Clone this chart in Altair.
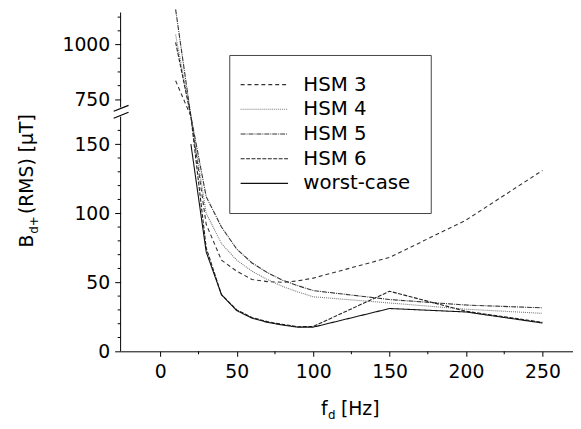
import altair as alt
import pandas as pd

# ---------------- data ----------------
freqs = [10, 20, 30, 40, 50, 60, 70, 80, 90, 100, 150, 200, 250]
hsm3 = [835, 185, 92, 66, 58, 52, 50.5, 50, 51, 53, 68, 95, 131]
hsm4 = [1045, 180, 100, 78, 66, 58, 52, 47, 43, 39.5, 35, 30.5, 27.5]
hsm5 = [1160, 190, 112, 90, 74, 64, 57, 51.5, 47.5, 44, 37.5, 33.5, 31.5]
hsm6 = [1010, 175, 75, 41, 30, 24.5, 21.5, 19.5, 17.8, 18, 43.5, 29, 21]
worst = [None, 150, 72, 41, 29.5, 24, 21, 19, 17.5, 17.5, 31, 28.5, 20.5]
series_names = ["HSM 3", "HSM 4", "HSM 5", "HSM 6", "worst-case"]
series_vals = [hsm3, hsm4, hsm5, hsm6, worst]
series_dash = [[4, 3], [1, 1], [5, 1, 1, 1], [4, 1.5], [1, 0]]
series_color = ["#333333", "#777777", "#333333", "#222222", "#111111"]

x_major = [0, 50, 100, 150, 200, 250]
x_minor = [25, 75, 125, 175, 225]
y_major_low = [0, 50, 100, 150]
y_minor_low = [10, 20, 30, 40, 60, 70, 80, 90, 110, 120, 130, 140, 160]
y_major_up = [750, 1000]
y_minor_up = [812.5, 875, 937.5, 1062.5, 1125]

# broken axis: lower segment 0..170, upper segment 713..1146
LO, HI, TOP = 170, 713, 1146
UP0, K = 176.6, 0.1588


def brk(v):
    if v <= LO:
        return v
    if v >= HI:
        return UP0 + (v - HI) * K
    return LO + (v - LO) * (UP0 - LO) / (HI - LO)


def calc_for(field):
    return (f"datum.{field} <= {LO} ? datum.{field} : (datum.{field} >= {HI} ? "
            f"{UP0} + (datum.{field} - {HI}) * {K} : "
            f"{LO} + (datum.{field} - {LO}) * {(UP0 - LO) / (HI - LO)})")


rows = []
for name, vals in zip(series_names, series_vals):
    for f, v in zip(freqs, vals):
        if v is not None:
            rows.append({"f": f, "v": v, "series": name})
df = pd.DataFrame(rows)

W, H = 458, 343
XDOM = [-26, 270]
YDOM = [0, brk(TOP)]

major_y = y_major_low + y_major_up
label_pairs = [(round(brk(v), 3), str(v)) for v in major_y]
lab_expr = " : ".join([f"abs(datum.value - {k}) < 0.01 ? '{s}'" for k, s in label_pairs]) + " : ''"

FONT = "DejaVu Sans"
FS = 19


def xs():
    return alt.Scale(domain=XDOM, nice=False, zero=False)


def ys():
    return alt.Scale(domain=YDOM, nice=False, zero=False)


lines = alt.Chart(df).transform_calculate(yb=calc_for("v")).mark_line(
    strokeWidth=1.1, clip=False
).encode(
    x=alt.X("f:Q", scale=xs(), axis=alt.Axis(
        values=x_major, title=None, domain=True, domainColor="black", grid=False,
        orient="bottom",
        tickColor="black", tickSize=5, labelFontSize=FS, labelFont=FONT,
        labelColor="black", labelPadding=7)),
    y=alt.Y("yb:Q", scale=ys(), axis=alt.Axis(
        values=[brk(v) for v in major_y], title=None, domain=False, grid=False,
        orient="left",
        tickColor="black", tickSize=6, labelFontSize=FS, labelFont=FONT,
        labelColor="black", labelPadding=5, labelExpr=lab_expr)),
    strokeDash=alt.StrokeDash("series:N", scale=alt.Scale(domain=series_names, range=series_dash),
                              legend=alt.Legend(
                                  title=None, orient="none", legendX=110, legendY=43,
                                  symbolType="M-3.08,0H4.92", symbolSize=144, symbolStrokeWidth=1.1,
                                  labelFontSize=20, labelFont=FONT, labelColor="black",
                                  labelOffset=35, rowPadding=5, padding=20,
                                  strokeColor="#444444", fillColor="white",
                              )),
    color=alt.Color("series:N", scale=alt.Scale(domain=series_names, range=series_color)),
    detail="series:N",
)

# y axis line in two segments (through the same y scale)
seg_df = pd.DataFrame({"a": [0, HI], "b": [LO, TOP]})
axis_line = alt.Chart(seg_df).transform_calculate(
    ya=calc_for("a"), yb2=calc_for("b")
).mark_rule(color="black", strokeWidth=1).encode(
    x=alt.value(0), y=alt.Y("ya:Q", scale=ys(), axis=None), y2="yb2:Q"
)

# minor ticks
ymin_df = pd.DataFrame({"m": y_minor_low + y_minor_up})
y_minor_ticks = alt.Chart(ymin_df).transform_calculate(ym=calc_for("m")).mark_rule(
    color="black", strokeWidth=1).encode(
    y=alt.Y("ym:Q", scale=ys(), axis=None), x=alt.value(-3), x2=alt.value(0))
xmin_df = pd.DataFrame({"m": x_minor})
x_minor_ticks = alt.Chart(xmin_df).mark_rule(color="black", strokeWidth=1).encode(
    x=alt.X("m:Q", scale=xs(), axis=None), y=alt.value(H), y2=alt.value(H + 3))

# axis break marks (decoration, pixel space)
brk_df = pd.DataFrame({"x1": [-7, -7], "x2": [8, 8], "y1": [100, 107], "y2": [94, 101]})
break_marks = alt.Chart(brk_df).mark_rule(color="black", strokeWidth=1.2).encode(
    x=alt.X("x1:Q", scale=None, axis=None), x2="x2:Q",
    y=alt.Y("y1:Q", scale=None, axis=None), y2="y2:Q"
)

xt = pd.DataFrame({"t": ["f"], "sub": ["d"], "rest": ["[Hz]"]})
xtitle = alt.Chart(xt).mark_text(font=FONT, fontSize=FS, align="left", baseline="alphabetic").encode(
    text="t:N", x=alt.value(203), y=alt.value(407))
xsub = alt.Chart(xt).mark_text(font=FONT, fontSize=12, align="left", baseline="alphabetic").encode(
    text="sub:N", x=alt.value(210), y=alt.value(412))
xrest = alt.Chart(xt).mark_text(font=FONT, fontSize=FS, align="left", baseline="alphabetic").encode(
    text="rest:N", x=alt.value(223), y=alt.value(407))

yt = pd.DataFrame({"t": ["B"], "sub": ["d+"], "rest": ["(RMS) [μT]"]})
ytitle = alt.Chart(yt).mark_text(font=FONT, fontSize=FS, align="left", baseline="alphabetic", angle=270).encode(
    text="t:N", x=alt.value(-89), y=alt.value(238))
ysub = alt.Chart(yt).mark_text(font=FONT, fontSize=12, align="left", baseline="alphabetic", angle=270).encode(
    text="sub:N", x=alt.value(-84), y=alt.value(224))
yrest = alt.Chart(yt).mark_text(font=FONT, fontSize=FS, align="left", baseline="alphabetic", angle=270).encode(
    text="rest:N", x=alt.value(-89), y=alt.value(204))

chart = alt.layer(
    lines, axis_line, y_minor_ticks, x_minor_ticks, break_marks,
    xtitle, xsub, xrest, ytitle, ysub, yrest
).resolve_scale(x="independent", y="independent").properties(
    width=W, height=H,
    background="white",
    autosize=alt.AutoSizeParams(type="none"),
    padding={"left": 114, "top": 2, "right": 0, "bottom": 70},
).configure_view(
    strokeWidth=0, stroke="transparent"
).configure_axis(
    grid=False
)

chart.save("out.html", embed_options={"renderer": "svg", "actions": False})
